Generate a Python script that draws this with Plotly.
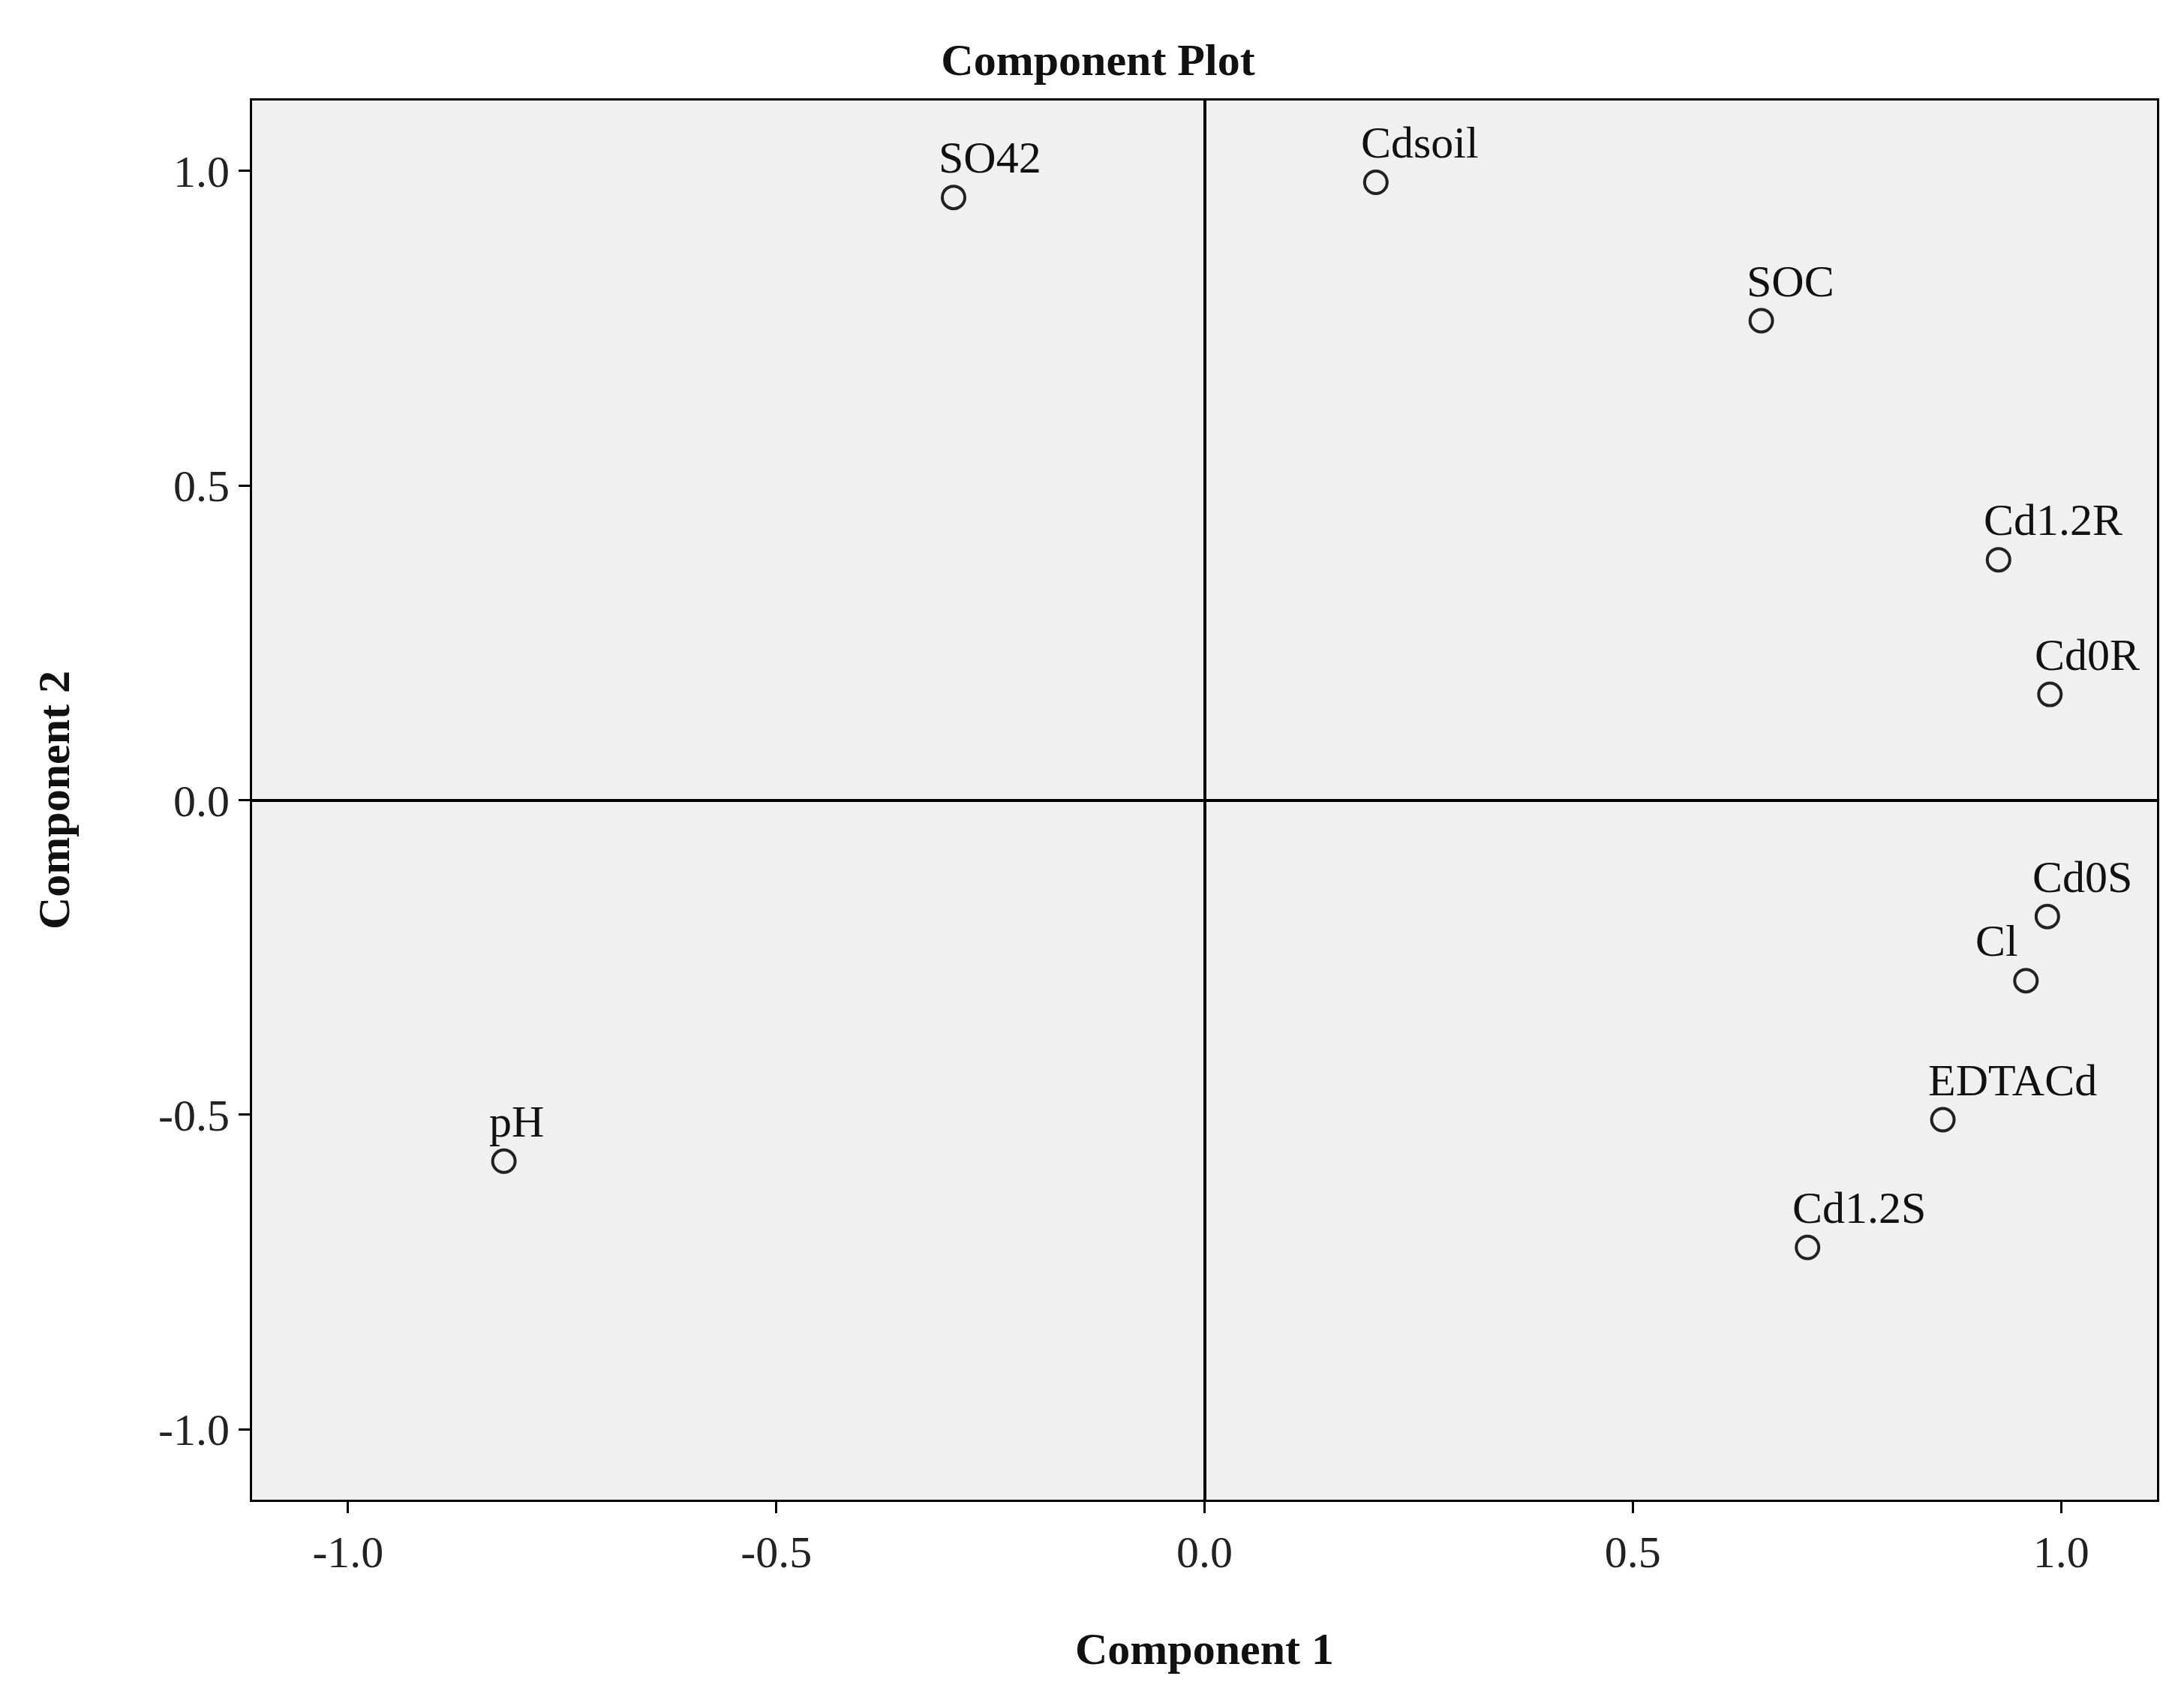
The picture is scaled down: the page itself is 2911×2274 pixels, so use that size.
import plotly.graph_objects as go

labels = ["SO42", "Cdsoil", "SOC", "Cd1.2R", "Cd0R", "Cd0S", "Cl", "EDTACd", "Cd1.2S", "pH"]
comp1 = [-0.293, 0.200, 0.650, 0.927, 0.987, 0.984, 0.959, 0.862, 0.704, -0.818]
comp2 = [0.958, 0.982, 0.762, 0.382, 0.168, -0.185, -0.287, -0.508, -0.711, -0.574]
tick_vals = [-1.0, -0.5, 0.0, 0.5, 1.0]
tick_text = ["-1.0", "-0.5", "0.0", "0.5", "1.0"]

serif = "Liberation Serif, Times New Roman, serif"
fig = go.Figure(go.Scatter(
    x=comp1, y=comp2, mode="markers",
    marker=dict(symbol="circle-open", size=30, color="#222", line=dict(width=4, color="#222")),
    cliponaxis=False, showlegend=False))

for lab, x, y in zip(labels, comp1, comp2):
    left = lab == "Cl"
    fig.add_annotation(x=x, y=y, text=lab, showarrow=False,
                       xanchor="right" if left else "left", yanchor="bottom",
                       xshift=-8 if left else -22, yshift=18,
                       font=dict(family=serif, size=60, color="#111"))

axis = dict(range=[-1.112, 1.112], tickvals=tick_vals, ticktext=tick_text,
            ticks="outside", ticklen=15, tickwidth=3, tickcolor="black",
            showgrid=False, zeroline=True, zerolinecolor="black", zerolinewidth=4,
            showline=True, linecolor="black", linewidth=3, mirror=True,
            tickfont=dict(family=serif, size=60, color="#222"))
fig.update_xaxes(**axis, title=dict(text="<b>Component 1</b>", font=dict(family=serif, size=60, color="#111"), standoff=75))
fig.update_yaxes(**axis, title=dict(text="<b>Component 2</b>", font=dict(family=serif, size=60, color="#111"), standoff=100))
fig.update_layout(
    width=2911, height=2274,
    margin=dict(l=328, r=44, t=126, b=283),
    plot_bgcolor="#f0f0f0", paper_bgcolor="white",
    title=dict(text="<b>Component Plot</b>", x=0.5, xanchor="center", y=0.978, yanchor="top",
               font=dict(family=serif, size=60, color="#111")))
fig.write_html("out.html")
